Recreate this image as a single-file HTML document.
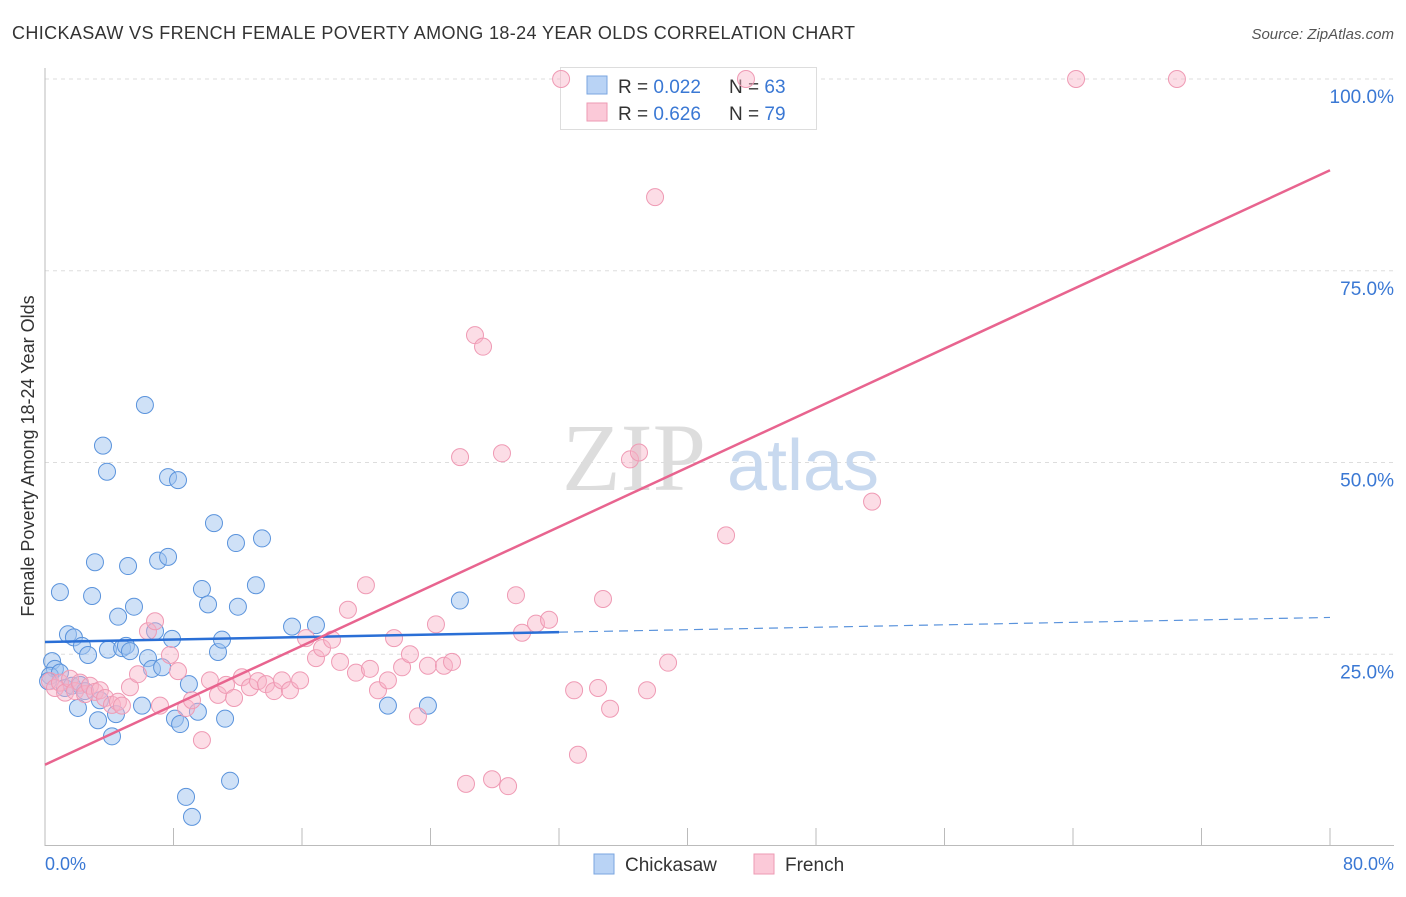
<!DOCTYPE html>
<html><head><meta charset="utf-8"><style>
body{margin:0;background:#fff;font-family:"Liberation Sans",sans-serif;}
</style></head><body>
<svg width="1406" height="892" xmlns="http://www.w3.org/2000/svg" font-family="Liberation Sans, sans-serif">
<text x="12" y="39" font-size="18" fill="#333" textLength="843">CHICKASAW VS FRENCH FEMALE POVERTY AMONG 18-24 YEAR OLDS CORRELATION CHART</text>
<text x="1394" y="39" font-size="15" fill="#555" font-style="italic" text-anchor="end">Source: ZipAtlas.com</text>
<g id="grid"></g>
<g>
<text x="634" y="490" font-size="96" fill="#ddd" font-family="Liberation Serif, serif" text-anchor="middle">ZIP</text>
<text x="803" y="490" font-size="72" fill="#c8d9ef" text-anchor="middle">atlas</text>
</g>
<line x1="45" y1="68" x2="45" y2="846" stroke="#bbb"/>
<line x1="45" y1="845.5" x2="1394" y2="845.5" stroke="#bbb"/>
<g id="ticks"></g>
<g>
<rect x="560.5" y="67.5" width="256" height="62" fill="#fff" stroke="#ddd"/>
<rect x="587" y="76" width="20" height="18" fill="#b9d3f5" stroke="#7aa6e0"/>
<rect x="587" y="103" width="20" height="18" fill="#fbc9d8" stroke="#ee9ab3"/>
<text x="618" y="93" font-size="19" fill="#333">R = <tspan fill="#3a78d4">0.022</tspan><tspan x="729">N = </tspan><tspan fill="#3a78d4">63</tspan></text>
<text x="618" y="120" font-size="19" fill="#333">R = <tspan fill="#3a78d4">0.626</tspan><tspan x="729">N = </tspan><tspan fill="#3a78d4">79</tspan></text>
</g>
<g id="points"></g>
<g id="lines"></g>
<text transform="translate(34,456) rotate(-90)" font-size="18" fill="#333" text-anchor="middle">Female Poverty Among 18-24 Year Olds</text>
<text x="45" y="870" font-size="18" fill="#3a78d4">0.0%</text>
<text x="1394" y="870" font-size="18" fill="#3a78d4" text-anchor="end">80.0%</text>
<g>
<rect x="594" y="854" width="20" height="20" fill="#b9d3f5" stroke="#7aa6e0"/>
<text x="625" y="871" font-size="19" fill="#333">Chickasaw</text>
<rect x="754" y="854" width="20" height="20" fill="#fbc9d8" stroke="#ee9ab3"/>
<text x="785" y="871" font-size="19" fill="#333">French</text>
</g>
</svg>
<script>
const yTicks=[25,50,75,100];
const yTickLabels=["25.0%","50.0%","75.0%","100.0%"];
const xTicks=[0,8,16,24,32,40,48,56,64,72,80];
const chickX=[0.44,0.62,0.31,0.93,1.43,1.8,2.05,2.3,2.68,2.93,3.11,3.3,3.61,3.86,3.92,4.17,4.42,4.55,4.8,5.04,5.17,5.54,6.04,6.22,6.41,6.66,6.85,7.04,7.29,7.66,7.66,7.91,8.09,8.28,8.41,8.78,8.96,9.15,9.52,9.77,10.15,10.52,10.77,11.02,11.21,11.52,11.89,12.01,13.13,13.51,15.38,16.87,21.35,23.84,25.83,0.93,1.24,1.68,2.18,2.49,0.19,5.29,3.42];
const chickY=[24.1,23.1,22.2,33.1,27.6,27.2,18.0,26.1,24.9,32.6,37.0,16.4,52.2,48.8,25.6,14.3,17.2,29.9,25.8,26.1,36.5,31.2,18.3,57.5,24.5,23.1,28.0,37.2,23.3,48.1,37.7,27.0,16.6,47.7,15.9,6.4,21.1,3.8,17.5,33.5,31.5,42.1,25.3,26.9,16.6,8.5,39.5,31.2,34.0,40.1,28.6,28.8,18.3,18.3,32.0,22.6,20.6,20.9,21.0,20.2,21.5,25.4,19.0];
const frX=[0.31,0.62,0.93,1.25,1.56,1.87,2.18,2.49,2.80,3.11,3.42,3.74,4.17,4.54,4.79,5.29,5.79,6.41,6.85,7.16,7.78,8.28,8.78,9.15,9.77,10.27,10.77,11.27,11.77,12.26,12.76,13.26,13.76,14.26,14.75,15.25,15.88,16.25,16.87,17.25,17.87,18.37,18.86,19.36,19.98,20.23,20.73,21.35,21.73,22.23,22.72,23.22,23.84,24.34,24.84,25.34,25.84,26.77,27.27,26.21,27.83,28.45,28.83,29.32,29.70,30.57,31.38,32.13,32.94,33.18,34.43,34.74,35.18,36.42,36.98,37.48,37.98,38.79,42.40,43.64,51.49,64.19,70.47];
const frY=[21.5,20.6,21.3,20.0,21.8,20.2,21.3,19.8,20.9,20.1,20.3,19.3,18.4,18.8,18.3,20.7,22.4,28.0,29.3,18.3,24.9,22.8,18.0,19.0,13.8,21.6,19.7,21.0,19.3,22.0,20.7,21.5,21.1,20.2,21.6,20.3,21.6,27.1,24.5,25.8,26.9,24.0,30.8,22.6,34.0,23.1,20.3,21.6,27.1,23.3,25.0,16.9,23.5,28.9,23.5,24.0,50.7,66.6,65.1,8.1,8.7,51.2,7.8,32.7,27.8,29.0,29.5,100,20.3,11.9,20.6,32.2,17.9,50.4,51.3,20.3,84.6,23.9,40.5,100,44.9,100,100];
const chickTrend=[26.6,29.8];
const frTrend=[10.6,88.1];
const svg=document.querySelector('svg');
const NS='http://www.w3.org/2000/svg';
const X=v=>45+v/80*1285, Y=v=>846-v*7.67;
function mk(t,a,p){const e=document.createElementNS(NS,t);for(const k in a)e.setAttribute(k,a[k]);p.appendChild(e);return e;}
const grid=document.getElementById('grid');
yTicks.forEach((t,i)=>{
 const l=mk('line',{x1:45,x2:1394,y1:Y(t),y2:Y(t),stroke:'#ddd','stroke-dasharray':'4,4'},grid);
 
 
 const tx=mk('text',{x:1394,y:Y(t)+24,'font-size':19,fill:'#3a78d4','text-anchor':'end'},grid);
 tx.textContent=yTickLabels[i];
 
 
});
const tk=document.getElementById('ticks');
xTicks.forEach(t=>{const l=mk('line',{x1:X(t),x2:X(t),y1:828,y2:846,stroke:'#bbb'},tk);
 
 });
const pts=document.getElementById('points');
chickX.forEach((x,i)=>{const c=mk('circle',{cx:X(x),cy:Y(chickY[i]),r:8.5,fill:'rgba(160,196,240,0.5)',stroke:'#5a93dc','stroke-width':1},pts);
 
 });
frX.forEach((x,i)=>{const c=mk('circle',{cx:X(x),cy:Y(frY[i]),r:8.5,fill:'rgba(248,180,200,0.45)',stroke:'#ef9ab4','stroke-width':1},pts);
 
 });
const ln=document.getElementById('lines');
const cy=x=>chickTrend[0]+(chickTrend[1]-chickTrend[0])*x/80;
let a=mk('line',{x1:X(0),y1:Y(cy(0)),x2:X(32),y2:Y(cy(32)),stroke:'#2a6fd6','stroke-width':2.5},ln);


a=mk('line',{x1:X(32),y1:Y(cy(32)),x2:X(80),y2:Y(cy(80)),stroke:'#5a93dc','stroke-width':1.2,'stroke-dasharray':'9,6'},ln);


a=mk('line',{x1:X(0),y1:Y(frTrend[0]),x2:X(80),y2:Y(frTrend[1]),stroke:'#e8648f','stroke-width':2.5},ln);


</script>
</body></html>
